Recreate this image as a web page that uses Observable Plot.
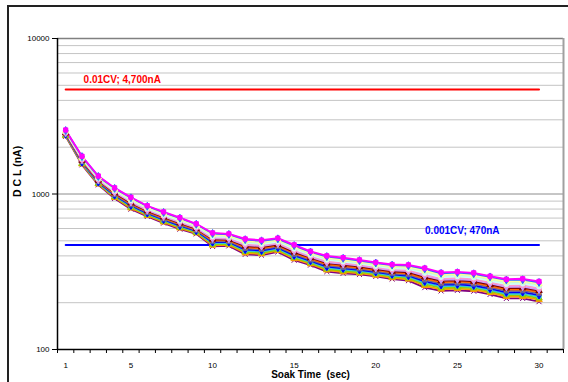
<!DOCTYPE html>
<html>
<head>
<meta charset="utf-8">
<script src="https://cdn.jsdelivr.net/npm/d3@7"></script>
<script src="https://cdn.jsdelivr.net/npm/@observablehq/plot@0.6"></script>
<style>
  html, body { margin: 0; padding: 0; background: #fff; }
  #wrap { position: relative; width: 568px; height: 382px; overflow: hidden; }
  #frame { position: absolute; left: 7px; top: 5px; width: 600px; height: 400px;
           border-top: 2px solid #222; border-left: 2px solid #222; box-sizing: border-box; }
  #chart { position: absolute; left: 0; top: 0; }
  #chart svg { font-family: Arial, "Liberation Sans", sans-serif; }
</style>
</head>
<body>
<div id="wrap"><div id="frame"></div><div id="chart"></div></div>
<script>
// Soak time categories (sec)
const soakTime = [1,2,3,4,5,6,7,8,9,10,11,12,13,14,15,16,17,18,19,20,21,22,23,24,25,26,27,28,29,30];

// DCL (nA) per sample, top of bundle to bottom
const s01 = [2580,1750,1305,1095,953,840,767,705,643,562,554,514,505,520,471,428,400,390,377,363,352,350,334,313,316,311,296,283,285,274];
const s02 = [2560,1740,1297,1087,945,834,761,699,639,557,550,509,500,515,466,424,396,386,373,360,349,346,330,309,312,307,293,280,281,270];
const s03 = [2545,1723,1284,1074,933,824,752,691,631,549,542,500,492,508,459,418,389,379,368,354,343,341,323,303,306,301,287,274,276,265];
const s04 = [2534,1708,1273,1063,922,815,744,683,625,542,536,493,485,501,452,412,383,374,362,349,338,335,317,298,301,296,282,269,271,260];
const s05 = [2516,1691,1260,1050,910,806,734,674,618,533,529,485,477,493,444,406,377,367,357,344,333,330,310,292,295,290,276,263,265,254];
const s06 = [2497,1674,1247,1038,898,796,725,665,611,525,522,476,469,485,436,400,370,361,351,339,328,324,304,286,289,284,271,258,259,248];
const s07 = [2481,1660,1236,1027,887,787,717,657,605,518,515,469,462,479,430,394,364,355,346,334,323,319,298,281,283,279,266,253,254,243];
const s08 = [2465,1645,1225,1016,876,779,709,650,599,511,509,462,455,472,423,389,359,350,341,329,318,314,292,276,278,274,261,248,249,239];
const s09 = [2449,1630,1214,1004,865,770,700,642,592,504,503,454,447,465,416,383,353,344,335,324,313,308,286,270,273,269,256,243,244,234];
const s10 = [2433,1616,1203,993,854,761,692,634,586,497,496,447,440,459,410,377,347,338,330,319,308,303,280,265,267,264,251,238,239,229];
const s11 = [2417,1601,1191,982,844,753,684,626,580,490,490,439,433,452,403,372,341,332,325,315,304,298,274,260,262,258,246,233,234,224];
const s12 = [2401,1586,1180,971,833,744,676,618,574,482,484,432,426,445,396,366,335,327,320,310,299,293,268,255,257,253,241,228,229,219];
const s13 = [2385,1572,1169,960,822,735,668,611,567,475,478,425,419,438,389,361,329,321,315,305,294,288,263,249,251,248,237,224,224,214];
const s14 = [2368,1557,1158,949,811,727,659,603,561,468,471,417,412,432,383,355,324,315,310,300,289,283,257,244,246,243,232,219,219,209];
const s15 = [2350,1540,1145,936,799,717,650,594,554,460,464,409,404,424,375,349,317,309,304,295,284,277,250,238,240,237,226,213,213,203];

const seriesList = [s15,s14,s13,s12,s11,s10,s09,s08,s07,s06,s05,s04,s03,s02,s01];
const seriesColors = ["#800080","#FF9900","#99CC00","#33CCCC","#0000FF","#666699","#FF6600","#800000","#CC99FF","#FF99CC","#CCFFFF","#CCFFCC","#FFFF99","#3366FF","#FF00FF"];
const seriesSymbols = ["times","triangle","triangle","circle","diamond","square","times","triangle","diamond","square","circle","square","triangle","diamond","square"];

// Reference limits
const refValues = [4700, 470];
const refLabels = ["0.01CV; 4,700nA", "0.001CV; 470nA"];
const refColors = ["#FF0000", "#0000FF"];
const refLabelX = [2.1, 25.3];

// Axis ticks
const yTickLabels = [100, 1000, 10000];
const yMinorGrid = [200,300,400,500,600,700,800,900,2000,3000,4000,5000,6000,7000,8000,9000];
const yMajorGrid = [1000];
const xTickLabels = [1,5,10,15,20,25,30];
const xCategoryEdges = d3.range(0.5, 32, 1);

const points = [];
seriesList.forEach((vals, si) => {
  vals.forEach((v, i) => points.push({series: si, t: soakTime[i], dcl: v}));
});
const refRows = refValues.map((v, i) => ({v, label: refLabels[i], color: refColors[i], lx: refLabelX[i]}));
const refLinePts = refRows.flatMap(r => [{v: r.v, t: soakTime[0], color: r.color}, {v: r.v, t: soakTime[soakTime.length-1], color: r.color}]);

const marks = [
  Plot.ruleY(yMinorGrid, {stroke: "#c4c4c4", strokeWidth: 1}),
  Plot.ruleY(yMajorGrid, {stroke: "#8c8c8c", strokeWidth: 1}),
  Plot.ruleY([10000], {stroke: "#808080", strokeWidth: 1.5}),
  Plot.ruleX([31.5], {stroke: "#a0a0a0", strokeWidth: 2}),
  Plot.axisX({ticks: xCategoryEdges, tickSize: 4, tickFormat: () => "", stroke: "#000"}),
  Plot.axisY({ticks: yTickLabels, tickSize: 5, tickPadding: 3, tickFormat: d => String(d), fontSize: 8, label: null}),
  Plot.ruleX([0.5], {stroke: "#000", strokeWidth: 1.5}),
  Plot.ruleY([100], {stroke: "#000", strokeWidth: 1.5}),
  Plot.text(xTickLabels, {x: d => d, y: 100, dy: 15.5, text: d => String(d), fontSize: 8, fill: "#000"}),
  Plot.line(refLinePts, {x: "t", y: "v", z: "color", stroke: "color", strokeWidth: 2}),
  Plot.text(refRows.slice(0, 1), {x: "lx", y: "v", dy: -9.5, text: "label", fill: "color", fontWeight: "bold", fontSize: 10, textAnchor: "start"}),
  Plot.text(refRows.slice(1, 2), {x: "lx", y: "v", dy: -14, text: "label", fill: "color", fontWeight: "bold", fontSize: 10, textAnchor: "middle"}),
  Plot.line(points, {x: "t", y: "dcl", z: "series", stroke: d => seriesColors[d.series], strokeWidth: 1.8}),
  Plot.dot(points, {x: "t", y: "dcl", symbol: d => seriesSymbols[d.series], fill: d => seriesColors[d.series], stroke: d => seriesColors[d.series], strokeWidth: 1, r: 2.4}),
  Plot.text(["D C L (nA)"], {frameAnchor: "left", dx: -40, dy: 3, rotate: -90, fontWeight: "bold", fontSize: 10.5, fill: "#000"}),
  Plot.text(["Soak Time\u00a0 (sec)"], {frameAnchor: "bottom", dy: 28, fontWeight: "bold", fontSize: 10, fill: "#000"})
];

const chart = Plot.plot({
  width: 568,
  height: 382,
  marginLeft: 57,
  marginRight: 5,
  marginTop: 38,
  marginBottom: 33,
  style: {background: "transparent", fontFamily: "Arial, 'Liberation Sans', sans-serif", color: "#000"},
  x: {type: "linear", domain: [0.5, 31.5], axis: null},
  y: {type: "log", domain: [100, 10000], axis: null},
  color: {type: "identity"},
  symbol: {type: "identity"},
  marks
});
document.getElementById("chart").appendChild(chart);
</script>
</body>
</html>
